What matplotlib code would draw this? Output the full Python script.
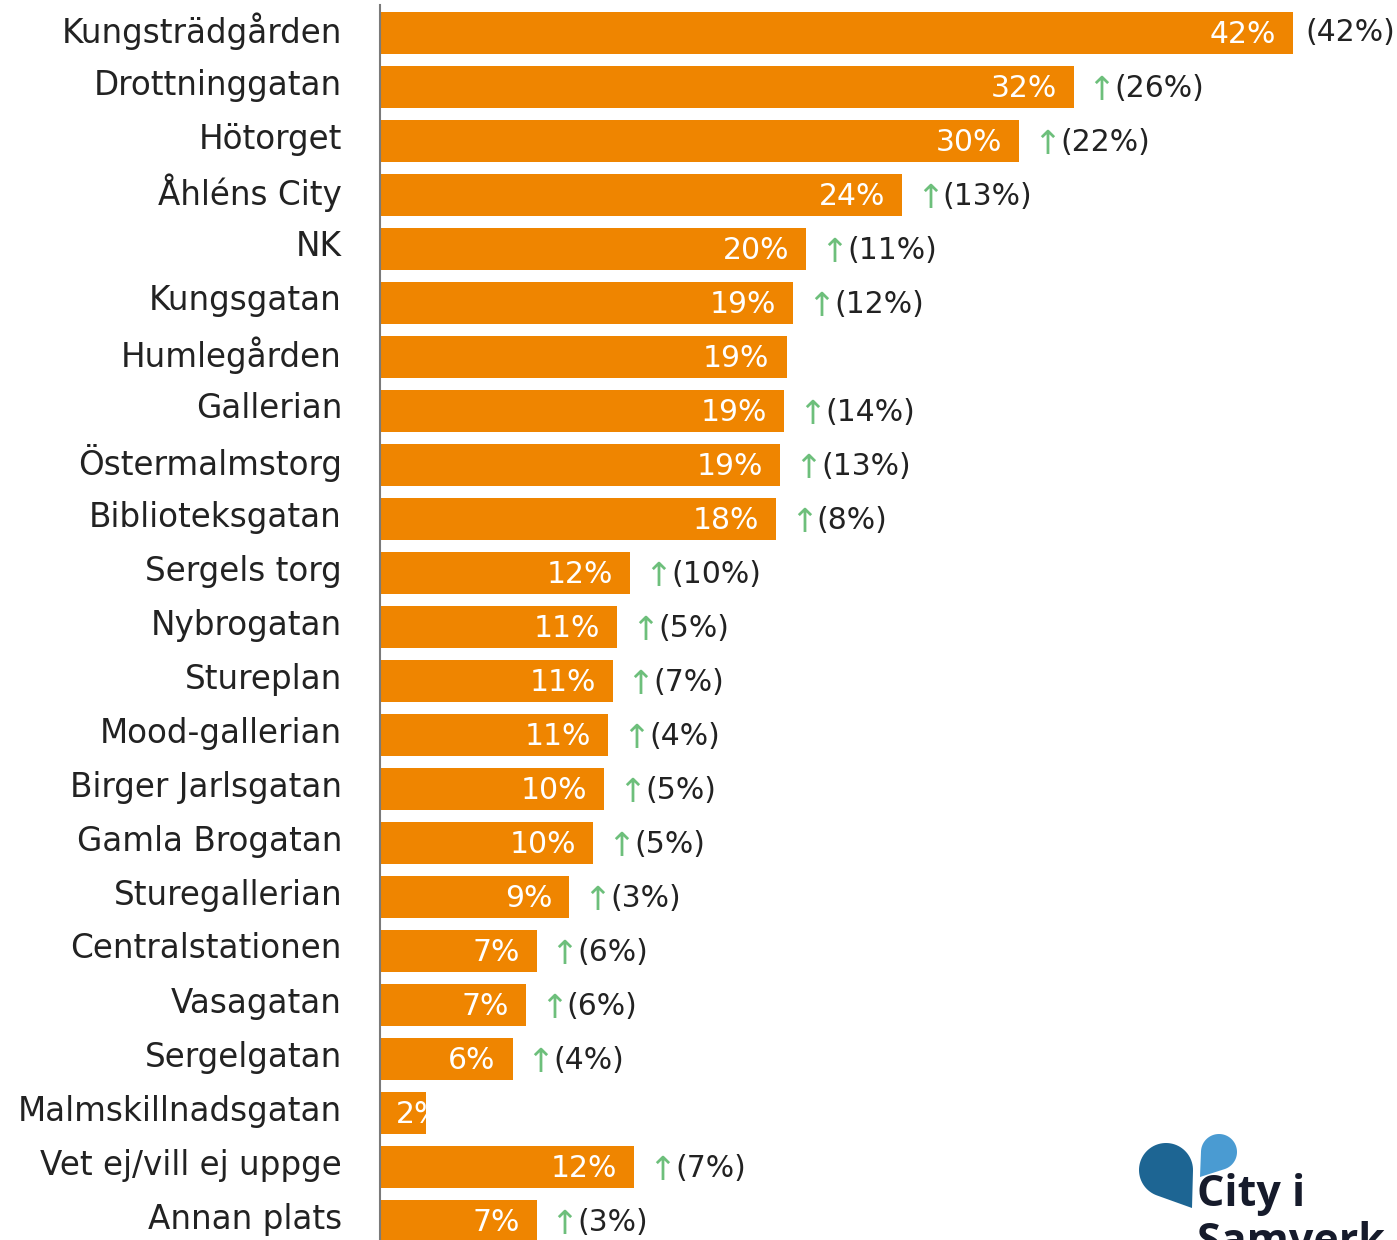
import matplotlib
matplotlib.use("Agg")
import matplotlib.pyplot as plt
import numpy as np
from matplotlib.patches import PathPatch
from matplotlib.path import Path

categories = ["Kungsträdgården", "Drottninggatan", "Hötorget", "Åhléns City", "NK",
              "Kungsgatan", "Humlegården", "Gallerian", "Östermalmstorg", "Biblioteksgatan",
              "Sergels torg", "Nybrogatan", "Stureplan", "Mood-gallerian", "Birger Jarlsgatan",
              "Gamla Brogatan", "Sturegallerian", "Centralstationen", "Vasagatan", "Sergelgatan",
              "Malmskillnadsgatan", "Vet ej/vill ej uppge", "Annan plats"]
values = [42.0, 31.9, 29.4, 24.0, 19.6, 19.0, 18.7, 18.6, 18.4, 18.2, 11.5, 10.9, 10.7,
          10.5, 10.3, 9.8, 8.7, 7.2, 6.7, 6.1, 2.1, 11.7, 7.2]
value_labels = ["42%", "32%", "30%", "24%", "20%", "19%", "19%", "19%", "19%", "18%", "12%",
                "11%", "11%", "11%", "10%", "10%", "9%", "7%", "7%", "6%", "2%", "12%", "7%"]
previous = ["(42%)", "(26%)", "(22%)", "(13%)", "(11%)", "(12%)", "", "(14%)", "(13%)", "(8%)",
            "(10%)", "(5%)", "(7%)", "(4%)", "(5%)", "(5%)", "(3%)", "(6%)", "(6%)", "(4%)",
            "", "(7%)", "(3%)"]
arrows = ["", "↑", "↑", "↑", "↑", "↑", "", "↑", "↑", "↑", "↑", "↑", "↑", "↑", "↑", "↑", "↑",
          "↑", "↑", "↑", "", "↑", "↑"]

ORANGE = "#EF8500"
GREEN = "#6DBF7B"
DARK = "#222222"
FONT = ["DejaVu Sans"]
FS = 21.5
FS_CAT = 23.5

W, H = 1397, 1240
fig = plt.figure(figsize=(W / 100, H / 100), dpi=100)
ax = fig.add_axes([380 / W, 0, 1017 / W, 1])
px_per_unit_x = 1017 / 46.78
ax.set_xlim(0, 46.78)
ax.set_ylim(-0.611 + H / 54, -0.611)
for s in ax.spines.values():
    s.set_visible(False)
ax.set_xticks([])
ax.set_yticks([])

ys = list(range(len(categories)))
bars = ax.barh(ys, values, height=0.76, color=ORANGE, zorder=2)
ax.plot([0, 0], [-0.52, 30], color="#7a7a7a", lw=1.5, zorder=3, clip_on=False)

def dx(px):
    return px / px_per_unit_x

for y, cat in zip(ys, categories):
    fig.text(342 / W, 1 - (31 + 54 * y) / H, cat, ha="right", va="center",
             fontsize=FS_CAT, family=FONT, color=DARK)

for y, v, lab, bar in zip(ys, values, value_labels, bars):
    if v < 4:
        t = ax.text(dx(16), y + 0.03, lab, ha="left", va="center", fontsize=FS,
                    family=FONT, color="white", zorder=4)
        t.set_clip_path(bar)
    else:
        ax.text(v - dx(17), y + 0.03, lab, ha="right", va="center", fontsize=FS,
                family=FONT, color="white", zorder=4)

for y, v, arr, prev in zip(ys, values, arrows, previous):
    if not prev:
        continue
    if arr:
        ax.text(v + dx(14), y + 0.06, arr, ha="left", va="center", fontsize=24,
                family=["DejaVu Sans"], color=GREEN, zorder=4)
        ax.text(v + dx(41), y + 0.03, prev, ha="left", va="center", fontsize=FS,
                family=FONT, color=DARK, zorder=4)
    else:
        ax.text(v + dx(12), y, prev, ha="left", va="center", fontsize=FS,
                family=FONT, color=DARK, zorder=4)

# logo
lax = fig.add_axes([0, 0, 1, 1], zorder=5)
lax.set_xlim(0, W)
lax.set_ylim(H, 0)
lax.axis("off")
lax.patch.set_alpha(0)

def drop(cx, cy, r, tipx, tipy, color):
    ang = np.arctan2(tipy - cy, tipx - cx)
    d = np.hypot(tipx - cx, tipy - cy)
    off = np.arccos(min(r / d, 1.0))
    a0, a1 = ang + off, ang - off + 2 * np.pi
    th = np.linspace(a0, a1, 60)
    xs = list(cx + r * np.cos(th)) + [tipx]
    ysl = list(cy + r * np.sin(th)) + [tipy]
    verts = list(zip(xs, ysl)) + [(xs[0], ysl[0])]
    codes = [Path.MOVETO] + [Path.LINETO] * (len(verts) - 2) + [Path.CLOSEPOLY]
    lax.add_patch(PathPatch(Path(verts, codes), color=color, lw=0))

drop(1166, 1170, 27, 1192, 1208, "#1D6593")
drop(1219, 1152, 18, 1200, 1177, "#4A9BD2")
lax.text(1197, 1194, "City i", ha="left", va="center", fontsize=31, weight="bold",
         family=["Open Sans", "DejaVu Sans"], color="#161B2B")
lax.text(1197, 1243, "Samverk", ha="left", va="center", fontsize=31, weight="bold",
         family=["Open Sans", "DejaVu Sans"], color="#161B2B")

fig.savefig("out.png", dpi=100)
